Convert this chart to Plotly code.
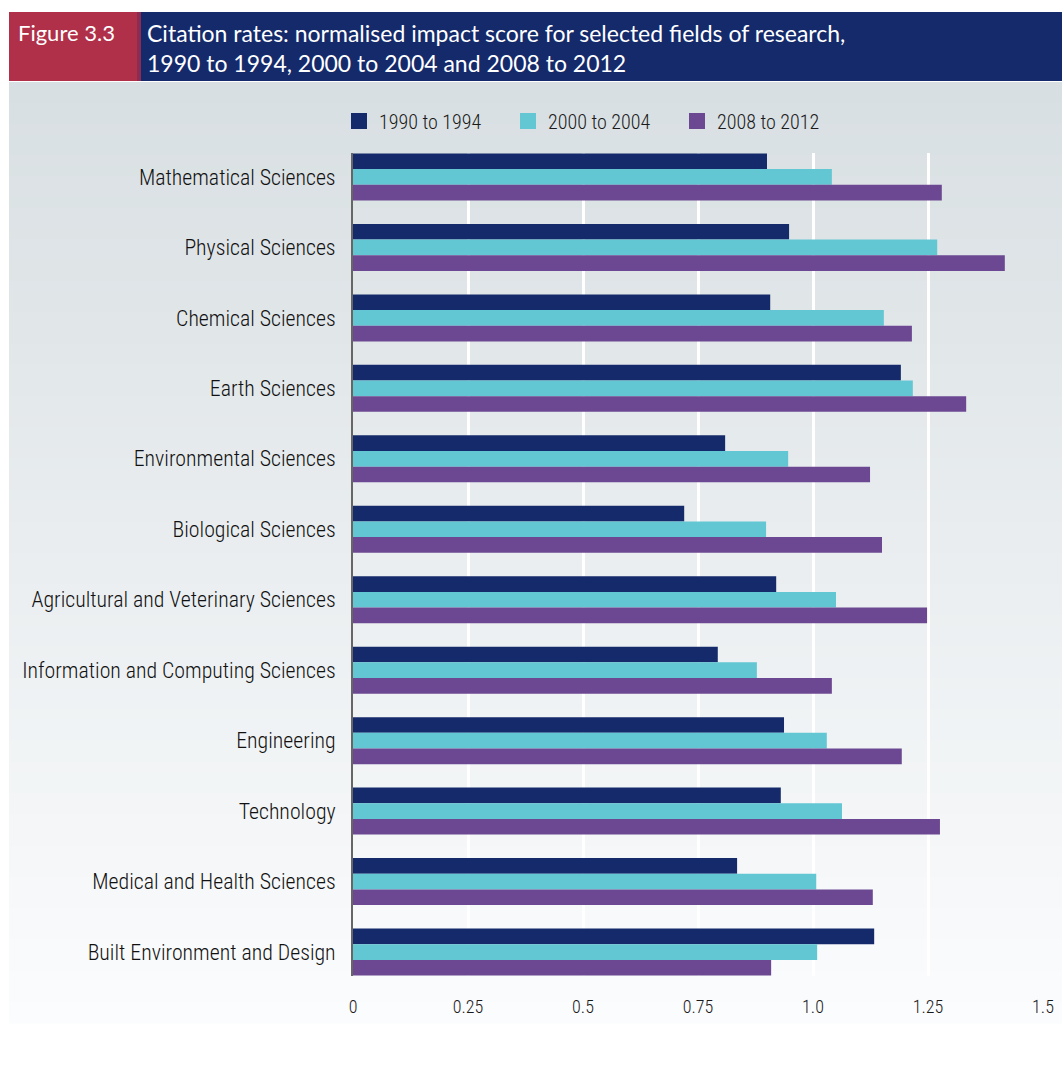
import plotly.graph_objects as go

categories = [
    "Mathematical Sciences", "Physical Sciences", "Chemical Sciences", "Earth Sciences",
    "Environmental Sciences", "Biological Sciences", "Agricultural and Veterinary Sciences",
    "Information and Computing Sciences", "Engineering", "Technology",
    "Medical and Health Sciences", "Built Environment and Design",
]
series_names = ["1990 to 1994", "2000 to 2004", "2008 to 2012"]
v1990 = [0.900, 0.948, 0.907, 1.191, 0.809, 0.720, 0.920, 0.793, 0.937, 0.930, 0.835, 1.133]
v2000 = [1.041, 1.270, 1.154, 1.217, 0.946, 0.898, 1.050, 0.878, 1.030, 1.063, 1.007, 1.009]
v2008 = [1.280, 1.417, 1.215, 1.333, 1.124, 1.150, 1.248, 1.041, 1.193, 1.276, 1.130, 0.909]
tick_vals = [0, 0.25, 0.5, 0.75, 1.0, 1.25, 1.5]
tick_text = ["0", "0.25", "0.5", "0.75", "1.0", "1.25", "1.5"]
colors = ["#142a6b", "#62c6d3", "#6d4892"]

W, H = 1062, 1068
L, R, T, B = 353, 1043, 153, 976
def px(x):
    return (x - L) / (R - L)
def py(y):
    return (B - y) / (B - T)

cond = "Roboto Condensed, Liberation Sans Narrow, Arial Narrow, sans-serif"
title_font = "Lato, Open Sans, sans-serif"

fig = go.Figure()
for name, vals, c in zip(series_names, [v1990, v2000, v2008], colors):
    fig.add_trace(go.Bar(
        y=categories, x=vals, name=name, orientation="h",
        marker=dict(color=c, line=dict(width=0)),
        legendgroup=name, showlegend=False,
    ))
for name, c in zip(series_names, colors):
    fig.add_trace(go.Scatter(
        x=[None], y=[None], mode="markers", name=name, legendgroup=name,
        marker=dict(symbol="square", size=19, color=c),
    ))

shapes = []
# background gradient
top_c = (216, 223, 226)
bot_c = (251, 252, 253)
y0, y1 = 82, 1023
n = 90
for i in range(n):
    t = i / (n - 1)
    col = tuple(round(a + (b - a) * t) for a, b in zip(top_c, bot_c))
    ya = y0 + (y1 - y0) * i / n
    yb = y0 + (y1 - y0) * (i + 1) / n + 0.8
    shapes.append(dict(type="rect", xref="paper", yref="paper",
                       x0=px(9), x1=px(1062), y0=py(yb), y1=py(ya),
                       fillcolor="rgb(%d,%d,%d)" % col, line=dict(width=0), layer="below"))
# header boxes
shapes.append(dict(type="rect", xref="paper", yref="paper", x0=px(9), x1=px(141),
                   y0=py(81), y1=py(12), fillcolor="#b03049", line=dict(width=0), layer="below"))
shapes.append(dict(type="rect", xref="paper", yref="paper", x0=px(137), x1=px(141),
                   y0=py(81), y1=py(12), fillcolor="#8c2c55", line=dict(width=0), layer="below"))
shapes.append(dict(type="rect", xref="paper", yref="paper", x0=px(141), x1=px(1062),
                   y0=py(81), y1=py(12), fillcolor="#152a6b", line=dict(width=0), layer="below"))

annotations = [
    dict(text="Figure 3.3", xref="paper", yref="paper", x=px(16), y=py(33),
         xanchor="left", yanchor="middle", showarrow=False,
         font=dict(family=title_font, size=22, color="white")),
    dict(text="Citation rates: normalised impact score for selected fields of research,<br>1990 to 1994, 2000 to 2004 and 2008 to 2012",
         xref="paper", yref="paper", x=px(145), y=py(48),
         xanchor="left", yanchor="middle", align="left", showarrow=False,
         font=dict(family=title_font, size=23, color="white")),
]

n_cat = len(categories)
fig.update_layout(
    width=W, height=H,
    margin=dict(l=L, r=W - R, t=T, b=H - B, pad=0, autoexpand=False),
    paper_bgcolor="white", plot_bgcolor="rgba(0,0,0,0)",
    barmode="group", bargap=0.333, bargroupgap=0,
    shapes=shapes, annotations=annotations,
    legend=dict(orientation="h", x=px(339), y=py(121), xanchor="left", yanchor="middle",
                font=dict(family=cond, size=20, color="#1a1a1a", weight=300), entrywidth=124,
                bgcolor="rgba(0,0,0,0)", itemsizing="trace"),
    xaxis=dict(range=[0, 1.5], tickvals=tick_vals, ticktext=tick_text, automargin=False,
               showgrid=True, gridcolor="white", gridwidth=3, zeroline=False,
               showline=False, ticks="", ticklabelstandoff=18,
               tickfont=dict(family=cond, size=18, color="#1a1a1a", weight=300)),
    yaxis=dict(categoryorder="array", categoryarray=categories, automargin=False,
               range=[n_cat - 1 + 0.34, -0.34], showgrid=False, zeroline=False,
               showline=True, linecolor="#666", linewidth=2, ticks="", ticklabelstandoff=11,
               tickfont=dict(family=cond, size=21.8, color="#111", weight=300)),
)
fig.write_html("out.html", config={"displayModeBar": False},
               post_script="document.body.style.margin='0';document.body.style.overflow='hidden';")
